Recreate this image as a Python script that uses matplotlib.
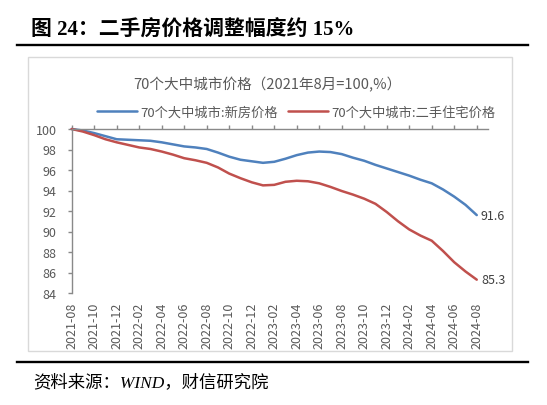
import matplotlib
matplotlib.use('Agg')
import matplotlib.pyplot as plt
from matplotlib.lines import Line2D
from matplotlib.patches import Rectangle
import pandas as pd

plt.rcParams['font.family'] = ['Noto Sans CJK SC', 'DejaVu Sans']

# 月度数据 2021-08 ~ 2024-08 (2021年8月=100)
months = pd.date_range('2021-08-01', '2024-08-01', freq='MS').strftime('%Y-%m').tolist()
new_house = [100.0, 99.85, 99.6, 99.3, 99.0, 98.95, 98.9, 98.85, 98.7, 98.5,
             98.3, 98.2, 98.05, 97.7, 97.3, 97.0, 96.85, 96.7, 96.8, 97.1,
             97.45, 97.7, 97.8, 97.75, 97.55, 97.2, 96.9, 96.5, 96.15, 95.8,
             95.45, 95.05, 94.7, 94.1, 93.4, 92.6, 91.6]
second_hand = [100.0, 99.75, 99.4, 99.0, 98.7, 98.45, 98.2, 98.05, 97.8, 97.5,
               97.15, 96.95, 96.7, 96.25, 95.65, 95.2, 94.8, 94.5, 94.55, 94.85,
               94.95, 94.9, 94.7, 94.35, 93.95, 93.6, 93.2, 92.7, 91.9, 91.0,
               90.2, 89.6, 89.1, 88.1, 87.0, 86.1, 85.3]
tick_labels = months[::2]
y_ticks = list(range(84, 101, 2))

series_names = ['70个大中城市:新房价格', '70个大中城市:二手住宅价格']
colors = ['#4F81BD', '#C0504D']
W, H = 547, 406

fig = plt.figure(figsize=(W / 100, H / 100), dpi=100)

# 外框与分隔线
fig.patches.append(Rectangle((28 / W, 1 - 352 / H), 484 / W, 294 / H, transform=fig.transFigure,
                             fill=False, edgecolor='#D9D9D9', lw=1))
for y in (46, 363):
    fig.add_artist(Line2D([17 / W, 528 / W], [1 - y / H, 1 - y / H], color='black', lw=1.7))

fig.text(31 / W, 1 - 31 / H, '图 24：二手房价格调整幅度约 15%', fontsize=15, fontweight='bold',
         family=['Liberation Serif', 'Noto Sans CJK SC'], va='center', ha='left')
fig.text(33 / W, 1 - 383 / H, '资料来源：WIND，财信研究院', fontsize=12.5, style='italic',
         family=['Liberation Serif', 'Noto Sans CJK SC'], va='center', ha='left')
fig.text(267 / W, 1 - 85 / H, '70个大中城市价格（2021年8月=100,%）', fontsize=10.5,
         color='#595959', ha='center', va='center')

ax = fig.add_axes([71.7 / W, 1 - 294 / H, (488 - 71.7) / W, 164 / H])
ax.set_facecolor('none')
x = list(range(len(months)))
lines = []
for vals, c, name in zip([new_house, second_hand], colors, series_names):
    ln, = ax.plot(x, vals, color=c, lw=1.8, label=name, clip_on=False, solid_capstyle='round')
    lines.append(ln)
    ax.annotate(f'{vals[-1]:.1f}', (x[-1], vals[-1]), xytext=(3, 0), textcoords='offset points',
                ha='left', va='center', fontsize=9, color='#404040')

ax.set_xlim(0, 37)
ax.set_ylim(84, 100)
ax.set_yticks(y_ticks)
ax.set_xticks(x[::2])
ax.set_xticklabels(tick_labels, rotation=90)

for s in ('right', 'bottom'):
    ax.spines[s].set_visible(False)
for s in ('left', 'top'):
    ax.spines[s].set_color('#898989')
    ax.spines[s].set_linewidth(1)

ax.tick_params(axis='x', top=True, bottom=False, labeltop=False, labelbottom=True,
               direction='out', length=3, width=1, color='#898989', pad=3.5,
               labelsize=9, labelcolor='#595959')
ax.tick_params(axis='y', left=True, direction='out', length=3, width=1, color='#898989',
               pad=8, labelsize=9, labelcolor='#595959')

fig.legend(handles=lines, loc='center', bbox_to_anchor=(296 / W, 1 - 113 / H), ncol=2,
           frameon=False, fontsize=9.5, handlelength=3.0, handletextpad=0.25,
           columnspacing=0.8, labelcolor='#595959')

fig.savefig('out.png', dpi=100)
